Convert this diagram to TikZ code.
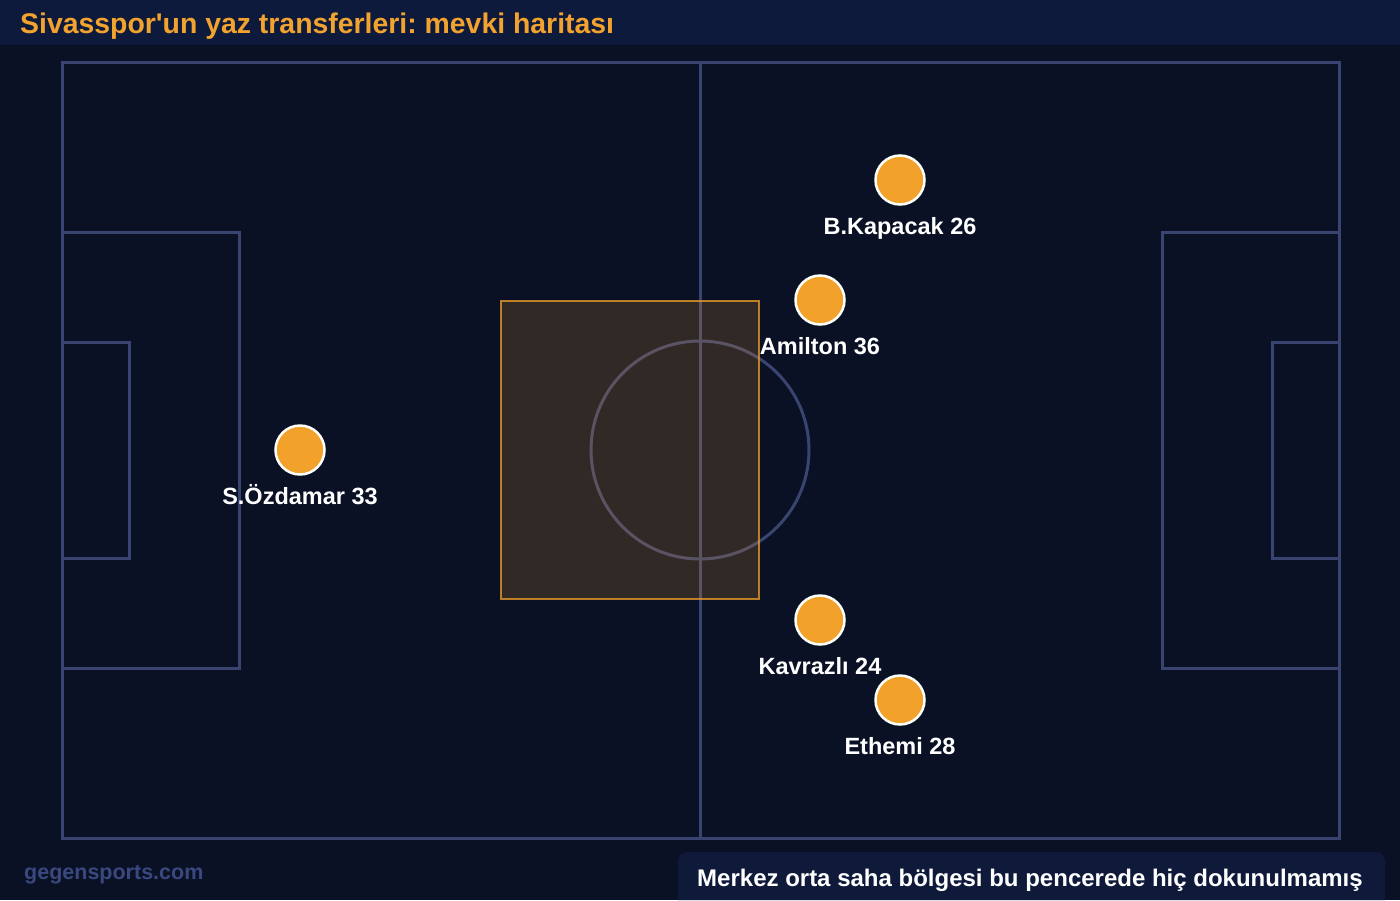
\documentclass[tikz,border=0pt]{standalone}
\usepackage{fontspec}
\setmainfont{Liberation Sans}
\usetikzlibrary{positioning}
\frenchspacing

\definecolor{pitchbg}{HTML}{0A1124}
\definecolor{titlebg}{HTML}{0D1A3B}
\definecolor{notebg}{HTML}{0F1A3A}
\definecolor{pitchline}{HTML}{3A4470}
\definecolor{dotorange}{HTML}{F2A12A}
\definecolor{titleorange}{HTML}{F2A22E}
\definecolor{markgrey}{HTML}{3A4880}

\begin{document}
\begin{tikzpicture}
  [
    x = 1pt, y = -1pt,
    pitch line/.style = {draw = pitchline, line width = 3pt},
    player/.style = {circle, fill = dotorange, draw = white, line width = 2.5pt,
        minimum size = 49pt, inner sep = 0pt},
    player name/.style = {text = white, inner sep = 0pt, text height = 17pt, text depth = 5pt,
        font = \bfseries\fontsize{23.5}{24}\selectfont},
  ]

  % background and title bar
  \useasboundingbox (0,0) rectangle (1400,900);
  \fill[pitchbg] (0,0) rectangle (1400,900);
  \fill[titlebg] (0,0) rectangle (1400,45);
  \node[anchor = base west, inner sep = 0pt, text = titleorange,
    font = \bfseries\fontsize{28.4}{30}\selectfont] (title) at (20,33.5)
    {Sivasspor\textquotesingle un yaz transferleri: mevki haritası};

  % pitch
  \draw[pitch line] (62,62) rectangle (1339,838);
  \draw[pitch line] (700,62) -- (700,838);
  \draw[pitch line] (700,450) circle [radius = 109pt];
  \draw[pitch line] (62,232) rectangle (239,668);
  \draw[pitch line] (62,342) rectangle (129,558);
  \draw[pitch line] (1339,232) rectangle (1162,668);
  \draw[pitch line] (1339,342) rectangle (1272,558);

  % untouched central zone
  \draw[fill = dotorange, fill opacity = 0.17, draw = dotorange, draw opacity = 0.75,
    line width = 2.5pt] (501,301) rectangle (759,599);

  % players
  \foreach \name/\x/\y/\txt in {kapacak/900/180/B.Kapacak 26,
      amilton/820/300/Amilton 36,
      ozdamar/300/450/S.Özdamar 33,
      kavrazli/820/620/Kavrazlı 24,
      ethemi/900/700/Ethemi 28}{
      \node[player] (\name) at (\x,\y) {};
      \node[player name, below = 11.5pt of \name] (\name-name) {\txt};
    }

  % footer
  \node[anchor = base west, inner sep = 0pt, text = markgrey,
    font = \bfseries\fontsize{21.5}{22}\selectfont] (site) at (24,879) {gegensports.com};
  \fill[notebg] (678,900) [rounded corners = 9pt] -- (678,852) -- (1385,852)
    [sharp corners] -- (1385,900) -- cycle;
  \node[anchor = base, inner sep = 0pt, text = white,
    font = \bfseries\fontsize{24}{25}\selectfont] (note) at (1030,886)
    {Merkez orta saha bölgesi bu pencerede hiç dokunulmamış};

\end{tikzpicture}
\end{document}
